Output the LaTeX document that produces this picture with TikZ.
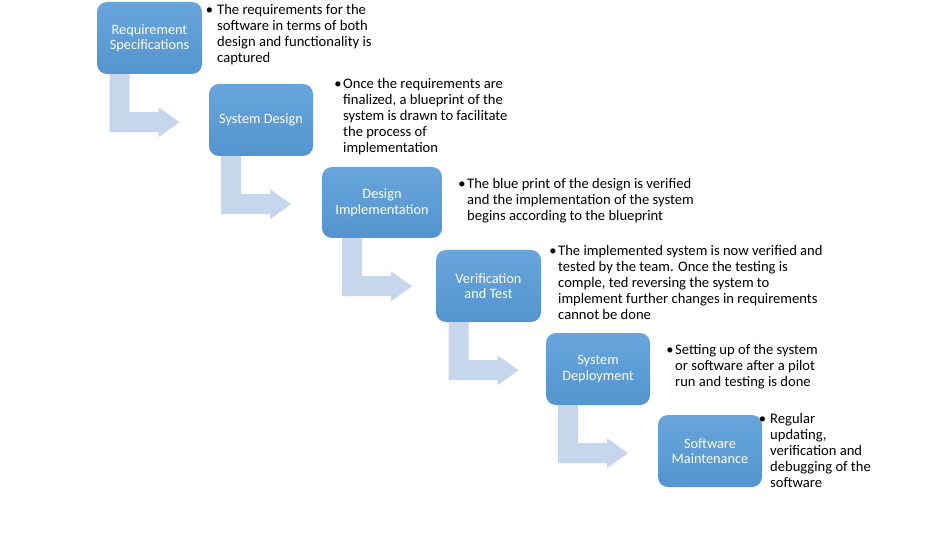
\documentclass[tikz,border=0pt]{standalone}
\usepackage{fontspec}
\setmainfont{Carlito}
\usetikzlibrary{calc}
\definecolor{boxblue}{RGB}{91,155,213}
\definecolor{boxtop}{RGB}{104,165,220}
\definecolor{boxbot}{RGB}{84,148,207}
\definecolor{arrowblue}{RGB}{198,214,236}
\newcommand\bentarrow[1]{%
  \fill[bent] ($(#1.south)+(-40,0)$) -- ++(20,0) -- ++(0,38) -- ++(29,0)
    -- ++(0,-5) -- ++(21,15) -- ++(-21,15) -- ++(0,-5) -- ++(-49,0) -- cycle;}
\newcommand\bul{\llap{\textbullet\hspace{1.5pt}}}
\newcommand\bulsp{\llap{\textbullet\hspace{4pt}}}
\begin{document}
\begin{tikzpicture}[x=1pt,y=-1pt,
  stage/.style={draw=none, rounded corners=10pt, top color=boxtop, bottom color=boxbot,
    text=white, align=center, font=\fontsize{14.3}{15.5}\selectfont, inner sep=0pt,
    minimum width=105pt, minimum height=72pt},
  desc/.style={anchor=north west, align=left, inner sep=0pt, text=black,
    font=\fontsize{14.6}{16}\selectfont},
  bent/.style={fill=arrowblue, draw=none}]
\useasboundingbox (0,0) rectangle (950,545);
\fill[white] (0,0) rectangle (950,545);

\node[stage] (b1) at (149.5,38) {Requirement\\Specifications};
\node[stage, minimum width=104pt] (b2) at (261,120) {System Design};
\node[stage, minimum width=120pt, minimum height=71pt] (b3) at (382,202.5) {Design\\Implementation};
\node[stage] (b4) at (488.5,286) {Verification\\and Test};
\node[stage, minimum width=104pt] (b5) at (598,369) {System\\Deployment};
\node[stage, minimum width=104pt] (b6) at (710,451) {Software\\Maintenance};

\bentarrow{b1}
\bentarrow{b2}
\bentarrow{b3}
\bentarrow{b4}
\bentarrow{b5}

\node[desc] (d1) at (217,4.5) {\bulsp The requirements for the\\software in terms of both\\design and functionality is\\captured};
\node[desc] (d2) at (343,78) {\bul Once the requirements are\\finalized, a blueprint of the\\system is drawn to facilitate\\the process of\\implementation};
\node[desc] (d3) at (467,178) {\bul The blue print of the design is verified\\and the implementation of the system\\begins according to the blueprint};
\node[desc] (d4) at (558,245.5) {\bul The implemented system is now verified and\\tested by the team. Once the testing is\\comple, ted reversing the system to\\implement further changes in requirements\\cannot be done};
\node[desc] (d5) at (675,344) {\bul Setting up of the system\\or software after a pilot\\run and testing is done};
\node[desc] (d6) at (770,413) {\bulsp Regular\\updating,\\verification and\\debugging of the\\software};
\end{tikzpicture}
\end{document}
